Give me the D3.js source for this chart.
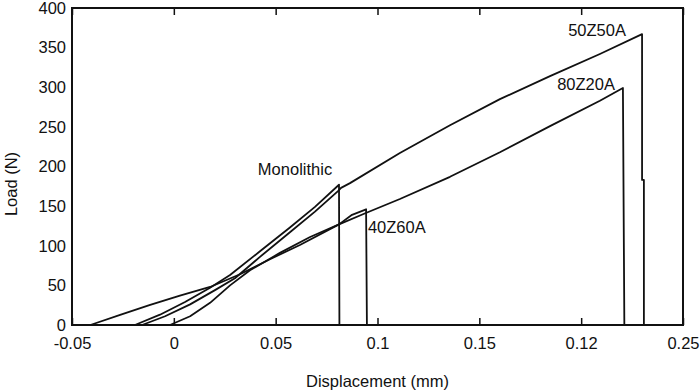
<!DOCTYPE html>
<html>
<head>
<meta charset="utf-8">
<script src="https://cdn.jsdelivr.net/npm/d3@7"></script>
<style>
  body { margin: 0; background: #fff; }
  svg text { font-family: "Liberation Sans", Arial, sans-serif; fill: #111; }
</style>
</head>
<body>
<svg id="chart" width="700" height="391"></svg>
<script>
let monoX = [-0.0191, -0.0068, 0.0055, 0.0178, 0.0276, 0.0423, 0.057, 0.0693, 0.0811, 0.0813];
let monoY = [0, 13, 29, 47, 63, 93, 123, 149, 177, 0];

let z50X = [-0.0156, -0.0043, 0.008, 0.0202, 0.03, 0.0423, 0.057, 0.0693, 0.0806, 0.0821, 0.0865,
            0.111, 0.1356, 0.1601, 0.1847, 0.2092, 0.2299, 0.2299, 0.2308, 0.2308];
let z50Y = [0, 11, 26, 44, 59, 86, 117, 143, 169, 173, 179, 217, 252, 285, 314, 342, 367, 183, 183, 0];

let z80X = [-0.041, -0.026, -0.012, 0.003, 0.0178, 0.0325, 0.0472, 0.0619, 0.0811, 0.094,
            0.111, 0.1356, 0.1601, 0.1847, 0.2092, 0.2205, 0.2212];
let z80Y = [0, 13, 25, 37, 48, 64, 83, 101, 127, 141, 159, 187, 218, 251, 283, 299, 0];

let z40X = [-0.0019, 0.008, 0.0178, 0.0276, 0.0374, 0.0521, 0.0669, 0.0811, 0.0875, 0.0944, 0.0948];
let z40Y = [0, 11, 28, 50, 69, 91, 111, 127, 139, 146, 0];

let xTickValues = [-0.05, 0, 0.05, 0.1, 0.15, 0.2, 0.25];
let xTickLabels = ["-0.05", "0", "0.05", "0.1", "0.15", "0.12", "0.25"];
let yTickValues = [0, 50, 100, 150, 200, 250, 300, 350, 400];

let seriesNames = ["Monolithic", "50Z50A", "80Z20A", "40Z60A"];
let labelX = [0.0595, 0.222, 0.2166, 0.0953];
let labelY = [196, 372, 304, 124];
let labelAnchor = ["middle", "end", "end", "start"];

drawChart();

function drawChart() {
    let svg = d3.select("#chart");
    let left = 72, right = 683, top = 8, bottom = 325;

    let x = d3.scaleLinear().domain([-0.05, 0.25]).range([left, right]);
    let y = d3.scaleLinear().domain([0, 400]).range([bottom, top]);

    // curves
    let series = [[monoX, monoY], [z50X, z50Y], [z80X, z80Y], [z40X, z40Y]];
    let line = d3.line()
        .x(d => x(d[0]))
        .y(d => y(d[1]));

    series.forEach(s => {
        let pts = s[0].map((v, i) => [v, s[1][i]]);
        svg.append("path")
            .datum(pts)
            .attr("d", line)
            .attr("fill", "none")
            .attr("stroke", "#111")
            .attr("stroke-width", 1.8)
            .attr("stroke-linejoin", "round");
    });

    // x axis, ticks pointing inward, bottom and top
    let xAxis = d3.axisBottom(x)
        .tickValues(xTickValues)
        .tickSize(-7)
        .tickFormat((d, i) => xTickLabels[i]);
    let gx = svg.append("g").attr("transform", `translate(0,${bottom})`).call(xAxis);
    gx.select(".domain").remove();
    gx.selectAll(".tick line").attr("stroke", "#111").attr("stroke-width", 1.5);
    gx.selectAll(".tick text")
        .attr("y", 12)
        .attr("dy", "0.71em")
        .style("font-size", "16.5px");

    let gxTop = svg.append("g").attr("transform", `translate(0,${top})`)
        .call(d3.axisTop(x).tickValues(xTickValues).tickSize(-7).tickFormat(""));
    gxTop.select(".domain").remove();
    gxTop.selectAll(".tick line").attr("stroke", "#111").attr("stroke-width", 1.5);

    // y axis labels only
    let gy = svg.append("g").attr("transform", `translate(${left},0)`)
        .call(d3.axisLeft(y).tickValues(yTickValues).tickSize(0).tickFormat(d3.format("d")));
    gy.select(".domain").remove();
    gy.selectAll(".tick text")
        .attr("x", -6)
        .style("font-size", "16.5px");

    // frame
    svg.append("rect")
        .attr("x", left).attr("y", top)
        .attr("width", right - left).attr("height", bottom - top)
        .attr("fill", "none")
        .attr("stroke", "#111")
        .attr("stroke-width", 2);

    // series labels
    seriesNames.forEach((n, i) => {
        svg.append("text")
            .attr("x", x(labelX[i]))
            .attr("y", y(labelY[i]))
            .attr("dy", "0.35em")
            .attr("text-anchor", labelAnchor[i])
            .style("font-size", "16.5px")
            .text(n);
    });

    // axis titles
    svg.append("text")
        .attr("x", (left + right) / 2)
        .attr("y", 381)
        .attr("dy", "0.35em")
        .attr("text-anchor", "middle")
        .style("font-size", "16.5px")
        .text("Displacement (mm)");

    svg.append("text")
        .attr("transform", "translate(11,184) rotate(-90)")
        .attr("dy", "0.35em")
        .attr("text-anchor", "middle")
        .style("font-size", "16.5px")
        .text("Load (N)");
}
</script>
</body>
</html>
